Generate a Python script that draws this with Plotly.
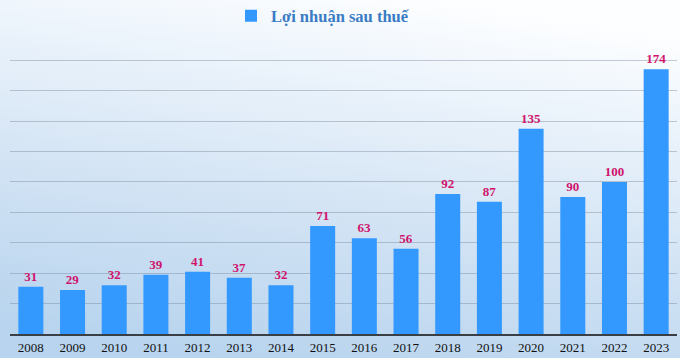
import base64
import plotly.graph_objects as go

years = ["2008", "2009", "2010", "2011", "2012", "2013", "2014", "2015",
         "2016", "2017", "2018", "2019", "2020", "2021", "2022", "2023"]
profit = [31, 29, 32, 39, 41, 37, 32, 71, 63, 56, 92, 87, 135, 90, 100, 174]
series_name = "Lợi nhuận sau thuế"

W, H = 680, 358
L, R, T, B = 10, 3, 29, 24
pw, ph = W - L - R, H - T - B

svg = f'''<svg xmlns="http://www.w3.org/2000/svg" width="{W}" height="{H}" viewBox="0 0 {W} {H}" preserveAspectRatio="none">
<defs><linearGradient id="g" x1="0.65" y1="0" x2="0.35" y2="1">
<stop offset="0" stop-color="#fdfeff"/>
<stop offset="0.2" stop-color="#eef5fc"/>
<stop offset="0.6" stop-color="#d2e3f4"/>
<stop offset="1" stop-color="#b8d4ee"/>
</linearGradient></defs>
<rect width="{W}" height="{H}" fill="url(#g)"/></svg>'''
src = "data:image/svg+xml;base64," + base64.b64encode(svg.encode()).decode()

fig = go.Figure()
fig.add_trace(go.Bar(
    x=years, y=profit, name=series_name,
    marker=dict(color="#3399FF", line=dict(width=0)),
    text=profit, textposition="outside", cliponaxis=False,
    textfont=dict(family="Liberation Serif", size=13, color="#D0146C", weight="bold"),
    showlegend=True,
))

fig.update_layout(
    width=W, height=H,
    margin=dict(l=L, r=R, t=T, b=B, autoexpand=False),
    paper_bgcolor="#dfeaf6",
    plot_bgcolor="rgba(0,0,0,0)",
    bargap=0.4,
    images=[dict(source=src, xref="paper", yref="paper",
                 x=-L / pw, y=1 + T / ph, sizex=W / pw, sizey=H / ph,
                 xanchor="left", yanchor="top", sizing="stretch", layer="below")],
    legend=dict(orientation="h", xref="container", yref="container",
                x=231 / W, xanchor="left", y=1 - 16 / H, yanchor="middle",
                bgcolor="rgba(0,0,0,0)",
                font=dict(family="Liberation Serif", size=16.5, color="#3A7CC4", weight="bold"),
                itemwidth=30),
    xaxis=dict(showline=True, linecolor="#3a3f45", linewidth=2, ticks="",
               tickfont=dict(family="Liberation Serif", size=13, color="#111111"),
               showgrid=False),
    yaxis=dict(range=[0, 200.5], dtick=20, showticklabels=False, ticks="",
               showgrid=True, gridcolor="rgba(110,130,150,0.4)", gridwidth=1,
               zeroline=False),
)

fig.write_html("out.html", config={"displayModeBar": False},
               post_script="document.body.style.margin='0';document.body.style.overflow='hidden';")
